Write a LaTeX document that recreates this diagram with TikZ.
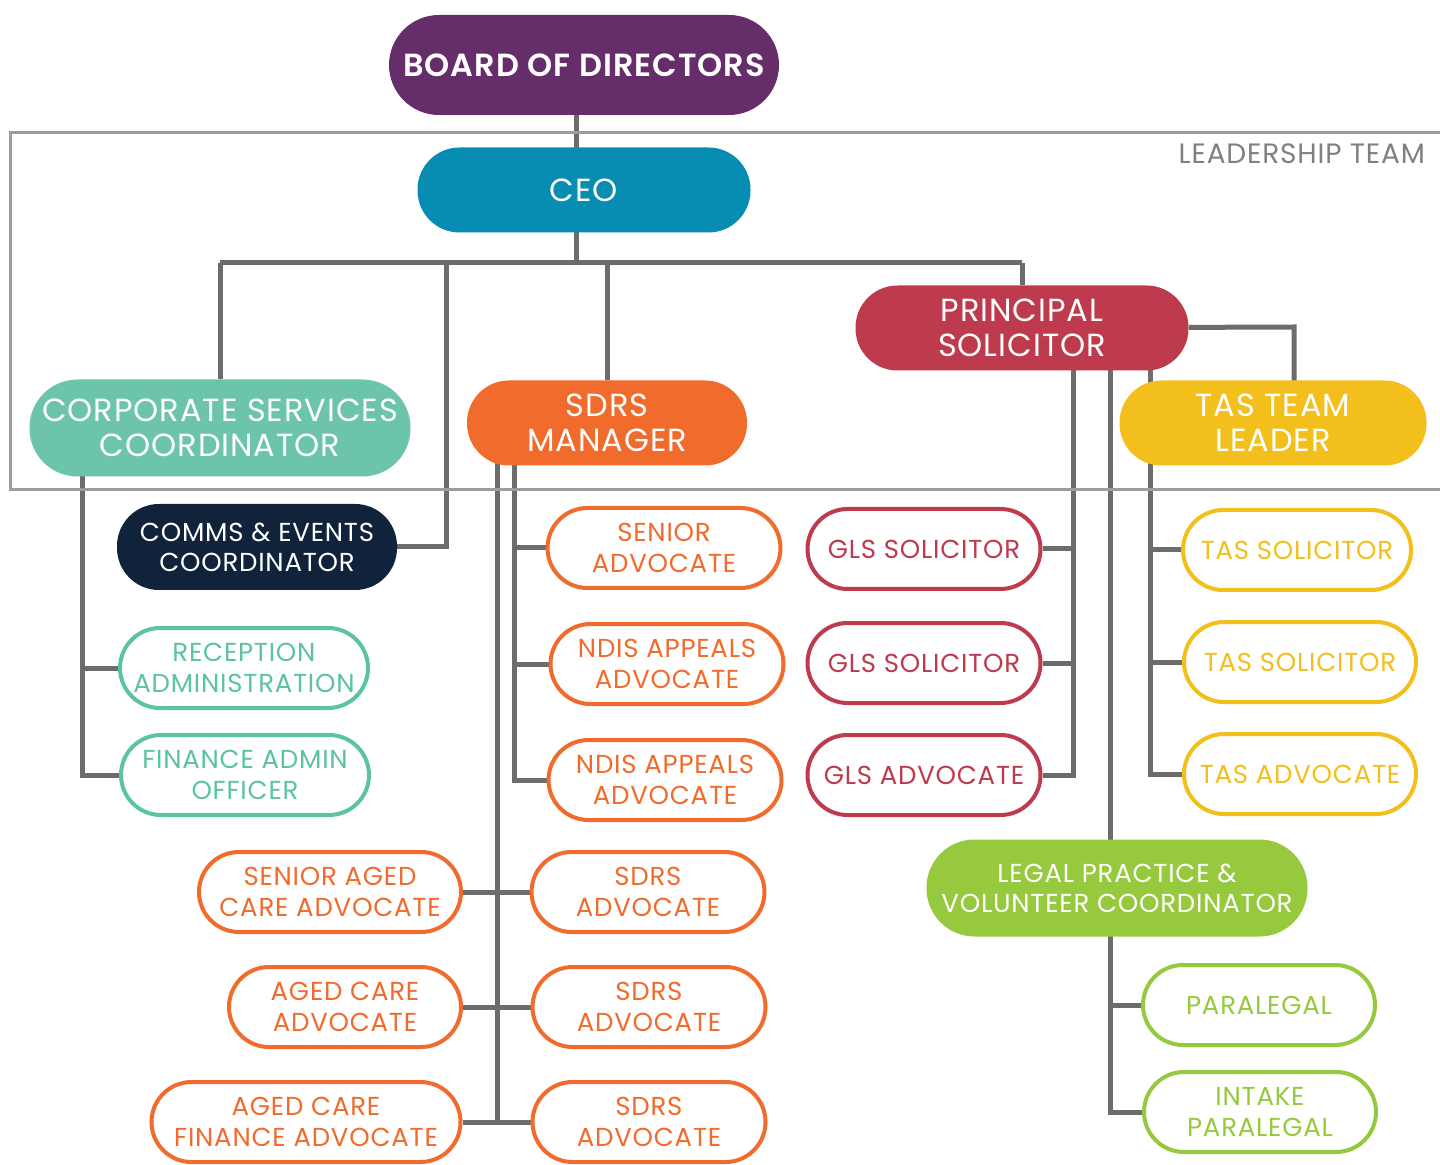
\documentclass[tikz,border=0pt]{standalone}
\usepackage{fontspec}
\setmainfont{Poppins}[LetterSpace=3, BoldFont={Poppins SemiBold}]
\usetikzlibrary{backgrounds}
\definecolor{boardpurple}{HTML}{662D6B}
\definecolor{ceoblue}{HTML}{078DB2}
\definecolor{corpmint}{HTML}{6CC5AA}
\definecolor{mintline}{HTML}{5BC3A3}
\definecolor{commsnavy}{HTML}{10233A}
\definecolor{sdrsorange}{HTML}{F16B2C}
\definecolor{glsred}{HTML}{BE3A4D}
\definecolor{tasyellow}{HTML}{F3BF1C}
\definecolor{legalgreen}{HTML}{96C93D}
\definecolor{linkgray}{HTML}{6B6C6B}
\definecolor{framegray}{HTML}{9D9D9D}
\definecolor{labelgray}{HTML}{808080}
\begin{document}
\begin{tikzpicture}[x=0.5pt, y=-0.5pt]
  \tikzstyle{pill}=[rectangle, rounded corners=21pt, minimum height=42.5pt, inner sep=0pt, align=center, text=white, font=\fontsize{16}{17.5}\selectfont]
  \tikzstyle{role}=[rectangle, rounded corners=20pt, minimum height=40pt, inner sep=0pt, align=center, draw, line width=2pt, fill=white, font=\fontsize{13}{15.5}\selectfont]
  \tikzstyle{link}=[draw=linkgray, line width=2.5pt]
  \useasboundingbox (0,0) rectangle (1440,1165);

  \node[pill, fill=boardpurple, minimum width=195pt, minimum height=50pt, rounded corners=25pt, font=\fontsize{16}{17.5}\selectfont\bfseries] (board) at (584, 65) {BOARD OF DIRECTORS};
  \node[pill, fill=ceoblue, minimum width=166.5pt] (ceo) at (584, 190) {CEO};

  \node[pill, fill=corpmint, minimum width=190.5pt, minimum height=48.5pt, rounded corners=24pt] (corp) at (220, 428) {CORPORATE SERVICES\\COORDINATOR};
  \node[pill, fill=sdrsorange, minimum width=140pt] (sdrs) at (607, 423) {SDRS\\MANAGER};
  \node[pill, fill=glsred, minimum width=166.5pt] (principal) at (1022, 328) {PRINCIPAL\\SOLICITOR};
  \node[pill, fill=tasyellow, minimum width=153.5pt] (tasleader) at (1273, 423) {TAS TEAM\\LEADER};

  \node[pill, fill=commsnavy, minimum width=140pt, minimum height=43pt, font=\fontsize{13}{15}\selectfont] (comms) at (257, 547) {COMMS \& EVENTS\\COORDINATOR};
  \node[role, draw=mintline, text=mintline, minimum width=124pt] (reception) at (244, 668) {RECEPTION\\ADMINISTRATION};
  \node[role, draw=mintline, text=mintline, minimum width=124pt] (finadmin) at (245, 775) {FINANCE ADMIN\\OFFICER};

  \node[role, draw=sdrsorange, text=sdrsorange, minimum width=116.5pt] (senioradv) at (664, 548) {SENIOR\\ADVOCATE};
  \node[role, draw=sdrsorange, text=sdrsorange, minimum width=116.5pt] (ndisa) at (667, 664) {NDIS APPEALS\\ADVOCATE};
  \node[role, draw=sdrsorange, text=sdrsorange, minimum width=116.5pt] (ndisb) at (665, 780) {NDIS APPEALS\\ADVOCATE};
  \node[role, draw=sdrsorange, text=sdrsorange, minimum width=116.5pt] (sdrsadva) at (648, 892) {SDRS\\ADVOCATE};
  \node[role, draw=sdrsorange, text=sdrsorange, minimum width=116.5pt] (sdrsadvb) at (649, 1007) {SDRS\\ADVOCATE};
  \node[role, draw=sdrsorange, text=sdrsorange, minimum width=116.5pt] (sdrsadvc) at (649, 1122) {SDRS\\ADVOCATE};
  \node[role, draw=sdrsorange, text=sdrsorange, minimum width=131pt] (senioraged) at (330, 892) {SENIOR AGED\\CARE ADVOCATE};
  \node[role, draw=sdrsorange, text=sdrsorange, minimum width=116pt] (agedcare) at (345, 1007) {AGED CARE\\ADVOCATE};
  \node[role, draw=sdrsorange, text=sdrsorange, minimum width=154.5pt] (agedfin) at (306, 1122) {AGED CARE\\FINANCE ADVOCATE};

  \node[role, draw=glsred, text=glsred, minimum width=116.5pt] (glsa) at (924, 549) {GLS SOLICITOR};
  \node[role, draw=glsred, text=glsred, minimum width=116.5pt] (glsb) at (924, 663) {GLS SOLICITOR};
  \node[role, draw=glsred, text=glsred, minimum width=116.5pt] (glsadv) at (924, 775) {GLS ADVOCATE};

  \node[role, draw=tasyellow, text=tasyellow, minimum width=114pt] (tassola) at (1297, 550) {TAS SOLICITOR};
  \node[role, draw=tasyellow, text=tasyellow, minimum width=116pt] (tassolb) at (1300, 662) {TAS SOLICITOR};
  \node[role, draw=tasyellow, text=tasyellow, minimum width=116pt] (tasadv) at (1300, 774) {TAS ADVOCATE};

  \node[pill, fill=legalgreen, minimum width=190.5pt, minimum height=48.5pt, rounded corners=24pt, font=\fontsize{13}{15}\selectfont] (legal) at (1117, 888) {LEGAL PRACTICE \&\\VOLUNTEER COORDINATOR};
  \node[role, draw=legalgreen, text=legalgreen, minimum width=116pt] (paralegal) at (1259, 1005) {PARALEGAL};
  \node[role, draw=legalgreen, text=legalgreen, minimum width=116pt] (intake) at (1260, 1112) {INTAKE\\PARALEGAL};

  \node[anchor=east, text=labelgray, font=\fontsize{14}{16}\selectfont] (leadlabel) at (1432, 154) {LEADERSHIP TEAM};

  \coordinate (jceo) at (576, 263);
  \coordinate (jcomms) at (446, 263);
  \coordinate (jtas) at (1294, 327);
  \coordinate (jcorp) at (82, 0);
  \coordinate (jsin) at (514, 0);
  \coordinate (jsout) at (497, 0);
  \coordinate (jgls) at (1073, 0);
  \coordinate (jlegal) at (1110, 0);
  \coordinate (jtsol) at (1150, 0);

  \begin{scope}[on background layer]
    \draw[link] (board.center -| jceo) -- (jceo);
    \draw[link] (corp |- jceo) -- (principal |- jceo);
    \draw[link] (corp |- jceo) -- (corp);
    \draw[link] (jcomms) |- (comms);
    \draw[link] (sdrs |- jceo) -- (sdrs);
    \draw[link] (principal |- jceo) -- (principal);
    \draw[link] (principal) -- (jtas) -- (jtas |- tasleader);

    \draw[link] (corp -| jcorp) |- (finadmin);
    \draw[link] (jcorp |- reception) -- (reception);

    \draw[link] (sdrs -| jsin) |- (ndisb);
    \draw[link] (jsin |- senioradv) -- (senioradv);
    \draw[link] (jsin |- ndisa) -- (ndisa);
    \draw[link] (sdrs -| jsout) -- (jsout |- sdrsadvc);
    \draw[link] (senioraged) -- (sdrsadva);
    \draw[link] (agedcare) -- (sdrsadvb);
    \draw[link] (agedfin) -- (sdrsadvc);

    \draw[link] (principal -| jgls) |- (glsadv);
    \draw[link] (jgls |- glsa) -- (glsa);
    \draw[link] (jgls |- glsb) -- (glsb);

    \draw[link] (principal -| jlegal) |- (intake);
    \draw[link] (jlegal |- paralegal) -- (paralegal);

    \draw[link] (principal -| jtsol) |- (tasadv);
    \draw[link] (jtsol |- tassola) -- (tassola);
    \draw[link] (jtsol |- tassolb) -- (tassolb);

    \draw[framegray, line width=1.5pt] (1440, 133) -- (10, 133) -- (10, 490) -- (1440, 490);
  \end{scope}
\end{tikzpicture}
\end{document}
